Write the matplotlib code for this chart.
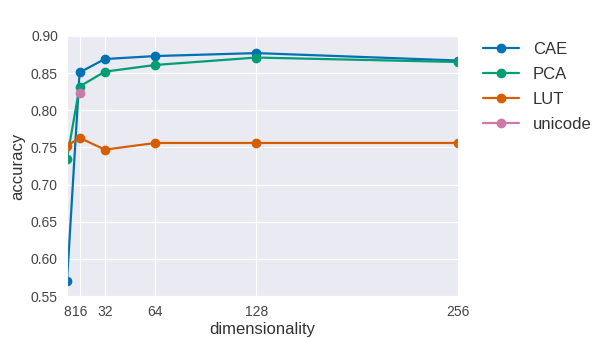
import matplotlib
matplotlib.use('Agg')
import matplotlib.pyplot as plt
import seaborn as sns

sns.set_style('darkgrid')
plt.rcParams['font.family'] = ['Liberation Sans', 'DejaVu Sans']

dims = [8, 16, 32, 64, 128, 256]
cae = [0.570, 0.851, 0.869, 0.873, 0.877, 0.867]
pca = [0.735, 0.832, 0.852, 0.861, 0.871, 0.865]
lut = [0.752, 0.763, 0.747, 0.756, 0.756, 0.756]
unicode_dims = [16]
unicode_acc = [0.823]

colors = {'CAE': '#0072B2', 'PCA': '#009E73', 'LUT': '#D55E00', 'unicode': '#CC79A7'}

fig = plt.figure(figsize=(5.95, 3.38), dpi=100)
ax = fig.add_axes([67 / 595, 1 - 296 / 338, (458 - 67) / 595, (296 - 36) / 338])

ax.plot(dims, cae, marker='o', ms=6, lw=1.6, color=colors['CAE'], label='CAE')
ax.plot(dims, pca, marker='o', ms=6, lw=1.6, color=colors['PCA'], label='PCA')
ax.plot(dims, lut, marker='o', ms=6, lw=1.6, color=colors['LUT'], label='LUT')
ax.plot(unicode_dims, unicode_acc, marker='o', ms=6, lw=1.6, color=colors['unicode'], label='unicode')

ax.set_xlim(8, 256)
ax.set_ylim(0.55, 0.90)
ax.set_xticks(dims)
ax.set_xticklabels([str(d) for d in dims])
ax.set_yticks([0.55, 0.60, 0.65, 0.70, 0.75, 0.80, 0.85, 0.90])
ax.set_yticklabels(['%.2f' % v for v in ax.get_yticks()])
ax.tick_params(labelsize=10, colors='#444444', pad=3)
ax.set_xlabel('dimensionality', fontsize=12, color='#333333', labelpad=2)
ax.set_ylabel('accuracy', fontsize=12, color='#333333')

leg = ax.legend(loc='upper left', bbox_to_anchor=(1.025, 1.035), frameon=False, fontsize=12,
                handlelength=2.2, handletextpad=0.8, labelspacing=0.6)
for t in leg.get_texts():
    t.set_color('#333333')

fig.savefig('out.png', dpi=100)
